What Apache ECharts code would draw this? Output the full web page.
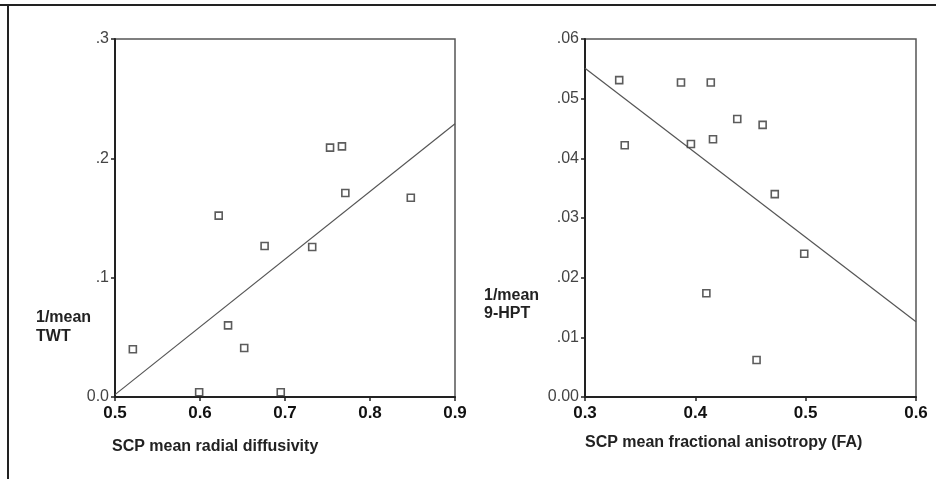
<!DOCTYPE html>
<html>
<head>
<meta charset="utf-8">
<script src="https://cdn.jsdelivr.net/npm/echarts@6/dist/echarts.min.js"></script>
<style>
html,body{margin:0;padding:0;background:#fff;}
#chart{width:936px;height:479px;}
</style>
</head>
<body>
<div id="chart"></div>
<script>
// Left panel: SCP mean radial diffusivity vs 1/mean TWT
var leftX = [0.521, 0.599, 0.622, 0.633, 0.652, 0.676, 0.695, 0.732, 0.753, 0.767, 0.771, 0.848];
var leftY = [0.040, 0.004, 0.152, 0.060, 0.041, 0.1265, 0.004, 0.1257, 0.209, 0.210, 0.171, 0.167];
var leftFitX = [0.5, 0.9];
var leftFitY = [0.002, 0.229];
var leftXTicks = ['0.5', '0.6', '0.7', '0.8', '0.9'];
var leftYTicks = ['0.0', '.1', '.2', '.3'];

// Right panel: SCP mean fractional anisotropy vs 1/mean 9-HPT
var rightX = [0.331, 0.336, 0.387, 0.396, 0.414, 0.416, 0.410, 0.438, 0.461, 0.4555, 0.472, 0.4987];
var rightY = [0.0531, 0.0422, 0.0527, 0.0424, 0.0527, 0.0432, 0.0174, 0.0466, 0.0456, 0.0062, 0.034, 0.024];
var rightFitX = [0.3, 0.6];
var rightFitY = [0.0551, 0.0126];
var rightXTicks = ['0.3', '0.4', '0.5', '0.6'];
var rightYTicks = ['0.00', '.01', '.02', '.03', '.04', '.05', '.06'];

var leftXLabel = 'SCP mean radial diffusivity';
var leftYLabel = ['1/mean', 'TWT'];
var rightXLabel = 'SCP mean fractional anisotropy (FA)';
var rightYLabel = ['1/mean', '9-HPT'];

function zip(a, b) { return a.map(function (v, i) { return [v, b[i]]; }); }
function lookup(labels, min, interval) {
  return function (v) { return labels[Math.round((v - min) / interval)] || ''; };
}

var axisLineStyle = { lineStyle: { color: '#222', width: 2 } };
var tickStyle = { show: true, inside: false, length: 4, lineStyle: { color: '#222', width: 1.5 } };

function xAxis(idx, min, max, labels) {
  return {
    type: 'value', gridIndex: idx, min: min, max: max, interval: 0.1,
    axisLine: axisLineStyle, axisTick: tickStyle, splitLine: { show: false },
    axisLabel: {
      formatter: lookup(labels, min, 0.1), fontFamily: 'Liberation Sans, Arial, sans-serif',
      fontWeight: 'bold', fontSize: 17, color: '#111', margin: 8
    }
  };
}
function yAxis(idx, max, interval, labels) {
  return {
    type: 'value', gridIndex: idx, min: 0, max: max, interval: interval,
    axisLine: { show: true, lineStyle: { color: '#222', width: 2 } }, axisTick: tickStyle, splitLine: { show: false },
    axisLabel: {
      formatter: lookup(labels, 0, interval), fontFamily: 'Liberation Sans, Arial, sans-serif',
      fontSize: 16, color: '#444', margin: 6
    }
  };
}

var scatterStyle = {
  type: 'scatter', symbol: 'rect', symbolSize: 7,
  itemStyle: { color: '#fff', borderColor: '#333', borderWidth: 1.6 }
};
var fitStyle = {
  type: 'line', symbol: 'none', lineStyle: { color: '#555', width: 1.2 }, z: 1
};

var titleFont = { fontFamily: 'Liberation Sans, Arial, sans-serif', fontWeight: 'bold', fontSize: 16, fill: '#222' };

var chart = echarts.init(document.getElementById('chart'), null, { renderer: 'canvas' });
chart.setOption({
  animation: false,
  backgroundColor: '#fff',
  grid: [
    { left: 115, top: 39, width: 340, height: 358, show: true, borderColor: '#555', borderWidth: 1.5, backgroundColor: 'transparent' },
    { left: 585, top: 39, width: 331, height: 358, show: true, borderColor: '#555', borderWidth: 1.5, backgroundColor: 'transparent' }
  ],
  xAxis: [xAxis(0, 0.5, 0.9, leftXTicks), xAxis(1, 0.3, 0.6, rightXTicks)],
  yAxis: [yAxis(0, 0.3, 0.1, leftYTicks), yAxis(1, 0.06, 0.01, rightYTicks)],
  series: [
    Object.assign({}, fitStyle, { xAxisIndex: 0, yAxisIndex: 0, data: zip(leftFitX, leftFitY) }),
    Object.assign({}, scatterStyle, { xAxisIndex: 0, yAxisIndex: 0, data: zip(leftX, leftY) }),
    Object.assign({}, fitStyle, { xAxisIndex: 1, yAxisIndex: 1, data: zip(rightFitX, rightFitY) }),
    Object.assign({}, scatterStyle, { xAxisIndex: 1, yAxisIndex: 1, data: zip(rightX, rightY) })
  ],
  graphic: [
    { type: 'line', shape: { x1: 0, y1: 5, x2: 936, y2: 5 }, style: { stroke: '#222', lineWidth: 2 } },
    { type: 'line', shape: { x1: 8, y1: 5, x2: 8, y2: 479 }, style: { stroke: '#222', lineWidth: 2 } },
    { type: 'text', left: 112, top: 439, style: Object.assign({ text: leftXLabel }, titleFont) },
    { type: 'text', left: 36, top: 308, style: Object.assign({ text: leftYLabel.join('\n'), lineHeight: 19 }, titleFont) },
    { type: 'text', left: 585, top: 435, style: Object.assign({ text: rightXLabel }, titleFont) },
    { type: 'text', left: 484, top: 287, style: Object.assign({ text: rightYLabel.join('\n'), lineHeight: 18 }, titleFont) }
  ]
});
</script>
</body>
</html>
